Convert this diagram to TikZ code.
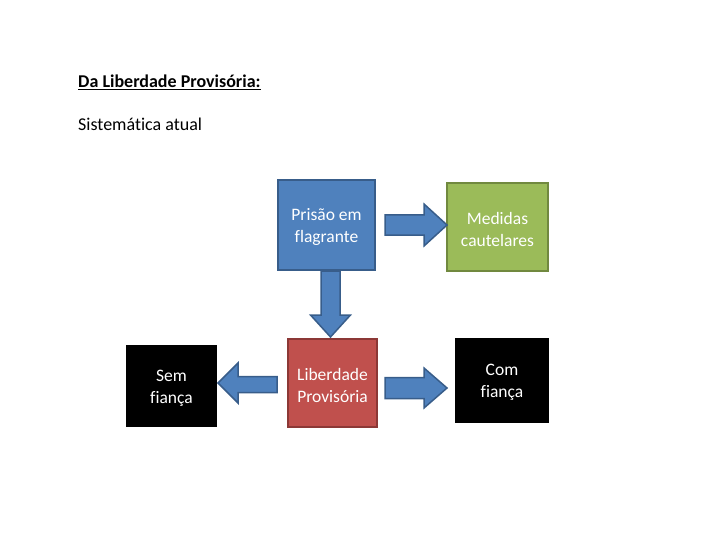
\documentclass[tikz,border=0pt]{standalone}
\usepackage{fontspec}
\setmainfont{Carlito}[Ligatures=NoCommon]
\usetikzlibrary{positioning}
\definecolor{bluefill}{HTML}{4F81BD}
\definecolor{blueline}{HTML}{385D8A}
\definecolor{greenfill}{HTML}{9BBB59}
\definecolor{greenline}{HTML}{71893F}
\definecolor{redfill}{HTML}{C0504D}
\definecolor{redline}{HTML}{8C3836}
\tikzset{
  boxtext/.style={font=\fontsize{17.5}{22}\selectfont, text=white, align=center, inner sep=0pt},
  blockarrow/.style={fill=bluefill, draw=blueline, line width=1.5pt, line join=miter},
}
\begin{document}
\begin{tikzpicture}[x=1pt,y=-1pt]
\useasboundingbox (0,0) rectangle (720,540);
% title
\node[anchor=base west, inner sep=0pt, font=\fontsize{18}{20}\selectfont\bfseries] (title) at (78,88) {\underline{Da Liberdade Provisória:}};
\node[anchor=base west, inner sep=0pt, font=\fontsize{18}{20}\selectfont] (sub) at (78,131) {Sistemática atual};
% boxes
\draw[fill=bluefill, draw=blueline, line width=2.5pt] (278,180) rectangle (375,270);
\node[boxtext] (prisao) at (326.5,227) {Prisão em\\flagrante};
\draw[fill=greenfill, draw=greenline, line width=2.5pt] (447,183) rectangle (548,271);
\node[boxtext] (medidas) at (497.5,229) {Medidas\\cautelares};
\draw[fill=redfill, draw=redline, line width=2.5pt] (288,339) rectangle (377,427);
\node[boxtext] (liberdade) at (332.5,385) {Liberdade\\Provisória};
\fill[black] (455,338) rectangle (549,423);
\node[boxtext] (com) at (502,382) {Com\\fiança};
\fill[black] (126,345) rectangle (217,427);
\node[boxtext] (sem) at (171.5,388) {Sem\\fiança};
% arrows
\draw[blockarrow] (385,215) -- (424,215) -- (424,204) -- (447,225) -- (424,246) -- (424,235) -- (385,235) -- cycle;
\draw[blockarrow] (385,377.5) -- (424,377.5) -- (424,368) -- (447,388) -- (424,408) -- (424,398.5) -- (385,398.5) -- cycle;
\draw[blockarrow] (321,271) -- (321,315) -- (310.5,315) -- (330.5,337) -- (350.5,315) -- (340,315) -- (340,271) -- cycle;
\draw[blockarrow] (277,376.5) -- (238,376.5) -- (238,363) -- (218,383) -- (238,403) -- (238,392.5) -- (277,392.5) -- cycle;
\end{tikzpicture}
\end{document}
